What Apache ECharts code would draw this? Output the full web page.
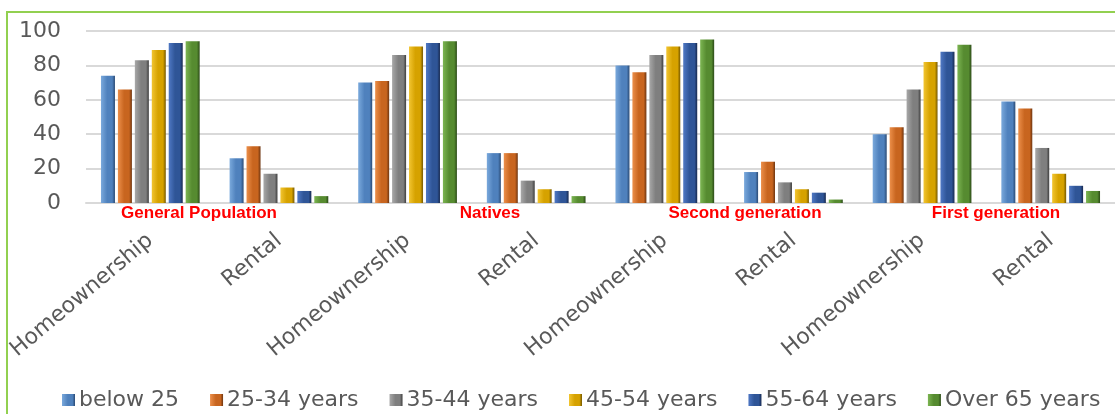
<!DOCTYPE html>
<html lang="en">
<head>
    <meta charset="UTF-8">
    <script src="https://cdn.jsdelivr.net/npm/echarts@6/dist/echarts.min.js"></script>
    <style>
        html, body {
            margin: 0;
            padding: 0;
            background: #ffffff;
        }

        #tenure_chart {
            width: 1115px;
            height: 414px;
        }
    </style>
</head>
<body>
<div id="tenure_chart"></div>
</body>
<script type="text/javascript">
    // categories along the x axis (two per population group)
    const tenure = ['Homeownership', 'Rental', 'Homeownership', 'Rental',
        'Homeownership', 'Rental', 'Homeownership', 'Rental'];
    const groups = ['General Population', 'Natives', 'Second generation', 'First generation'];
    const ageBands = ['below 25', '25-34 years', '35-44 years', '45-54 years', '55-64 years', 'Over 65 years'];

    // values per age band, in the order of tenure[]
    const below25 = [74, 26, 70, 29, 80, 18, 40, 59];
    const age25to34 = [66, 33, 71, 29, 76, 24, 44, 55];
    const age35to44 = [83, 17, 86, 13, 86, 12, 66, 32];
    const age45to54 = [89, 9, 91, 8, 91, 8, 82, 17];
    const age55to64 = [93, 7, 93, 7, 93, 6, 88, 10];
    const over65 = [94, 4, 94, 4, 95, 2, 92, 7];

    const yTicks = [0, 20, 40, 60, 80, 100];

    const seriesValues = [below25, age25to34, age35to44, age45to54, age55to64, over65];

    // light / base / dark shades for the bevelled bar look
    const shades = [
        ['#7aa9dc', '#4f81bd', '#2a4a74'],
        ['#ec8f4a', '#c8651f', '#6e3510'],
        ['#a8a8a8', '#7f7f7f', '#3d3d3d'],
        ['#f2c531', '#d6a200', '#755800'],
        ['#4f78c4', '#2f5597', '#17294f'],
        ['#7cb552', '#568b30', '#2b4a17']
    ];

    // where the red group captions sit (centre x)
    const groupLabelX = [199, 490, 745, 996];

    function barColor(s) {
        return new echarts.graphic.LinearGradient(0, 0, 1, 0, [
            {offset: 0, color: s[0]},
            {offset: 0.45, color: s[1]},
            {offset: 0.8, color: s[1]},
            {offset: 1, color: s[2]}
        ]);
    }

    const tenure_chart = echarts.init(document.getElementById('tenure_chart'));

    const labelFont = 'DejaVu Sans, sans-serif';

    const series = ageBands.map(function (name, i) {
        return {
            name: name,
            type: 'bar',
            barWidth: 14,
            barGap: '21%',
            data: seriesValues[i],
            itemStyle: {
                color: barColor(shades[i])
            }
        };
    });

    const graphics = [{
        type: 'rect',
        shape: {x: 7, y: 12, width: 1130, height: 430},
        style: {fill: 'none', stroke: '#92d050', lineWidth: 2},
        z: 0
    }];
    groups.forEach(function (g, i) {
        graphics.push({
            type: 'text',
            x: groupLabelX[i],
            y: 213,
            style: {
                text: g,
                fill: '#ff0000',
                font: 'bold 17px "Liberation Sans", sans-serif',
                textAlign: 'center',
                textVerticalAlign: 'middle'
            },
            z: 10
        });
    });

    tenure_chart.setOption({
        animation: false,
        grid: {
            left: 86,
            top: 31,
            width: 1043,
            height: 172
        },
        legend: {
            data: ageBands,
            left: 57,
            top: 384,
            itemWidth: 13,
            itemHeight: 12,
            itemGap: 31,
            icon: 'rect',
            textStyle: {
                color: '#595959',
                fontFamily: labelFont,
                fontSize: 22,
                padding: [0, 0, 0, -1]
            }
        },
        xAxis: {
            type: 'category',
            data: tenure,
            axisLine: {lineStyle: {color: '#d9d9d9', width: 2}},
            axisTick: {show: false},
            axisLabel: {
                interval: 0,
                rotate: 40,
                margin: 35,
                color: '#595959',
                fontFamily: labelFont,
                fontSize: 22
            }
        },
        yAxis: {
            type: 'value',
            min: yTicks[0],
            max: yTicks[yTicks.length - 1],
            interval: 20,
            axisLine: {show: false},
            axisTick: {show: false},
            splitLine: {lineStyle: {color: '#d9d9d9', width: 2}},
            axisLabel: {
                margin: 25,
                color: '#595959',
                fontFamily: labelFont,
                fontSize: 22
            }
        },
        graphic: graphics,
        series: series
    });
</script>
</html>
